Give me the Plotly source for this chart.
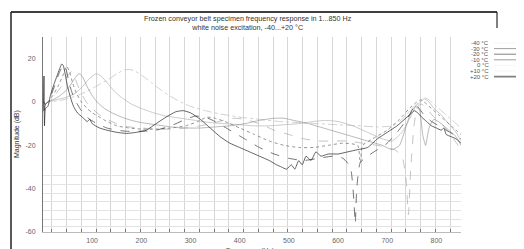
import plotly.graph_objects as go

# ---------------- data ----------------
temps = ["-40 °C", "-30 °C", "-20 °C", "-10 °C", "0 °C", "+10 °C", "+20 °C"]

f_m40 = [1, 5, 10, 30, 50, 70, 90, 110, 130, 150, 165, 175, 185, 200, 220, 240, 260, 280, 300, 330, 360, 400,
         440, 480, 520, 560, 600, 640, 680, 710, 730, 750, 765, 775, 785, 800, 815, 830, 840, 850]
m_m40 = [0, -1, 0, 0.5, 1.5, 3, 5, 7.5, 10, 13, 14.8, 15, 14.5, 12.5, 9, 5.5, 2.5, 0, -2, -4, -5.5, -7,
         -8, -9, -9.5, -10, -10.5, -11, -11.5, -11, -8, -3, 0, 2, 1, -2, -5, -8, -10, -12]

f_m30 = [1, 5, 10, 25, 45, 65, 80, 95, 108, 118, 130, 145, 160, 180, 200, 225, 250, 280, 310, 340, 370, 400,
         430, 460, 490, 520, 550, 575, 600, 630, 660, 690, 710, 730, 745, 758, 768, 775, 785, 795, 810, 825, 840, 850]
m_m30 = [0, -1, 0, 1, 2, 4, 7, 11, 13, 12, 9, 5, 2, -1, -3, -5, -6.5, -7.5, -8.5, -9.5, -10, -10.5,
         -11, -11, -10.5, -10, -9, -8.5, -9, -11, -14, -17, -18, -14, -8, -2, 0, 1.5, 0, -3, -6, -10, -14, -18]

f_m20 = [1, 5, 10, 20, 35, 50, 62, 70, 75, 82, 90, 100, 110, 125, 140, 160, 180, 200, 230, 260, 290, 320,
         350, 380, 410, 440, 470, 490, 510, 540, 570, 600, 630, 660, 690, 710, 725, 740, 750, 758, 766, 772,
         778, 785, 795, 810, 825, 840, 850]
m_m20 = [0, -1, 0, 1, 3, 6, 10, 12.5, 13, 11, 7, 3, 0, -3, -5, -7, -8.5, -9.5, -10.5, -11.5, -12, -12,
         -11.5, -11, -10, -8.5, -7.5, -7.5, -8.5, -10, -12, -14, -16, -18, -20, -22, -20, -10, -4, -2, -4, -15,
         -20, -12, -8, -10, -13, -16, -20]

f_m10 = [1, 5, 10, 20, 30, 40, 50, 58, 64, 70, 78, 88, 100, 115, 130, 150, 175, 200, 230, 260, 290, 320,
         350, 375, 390, 410, 440, 470, 500, 530, 560, 590, 620, 650, 680, 700, 715, 730, 738, 743, 748, 755,
         762, 770, 780, 795, 810, 825, 838, 850]
m_m10 = [0, -1, 0, 2, 5, 8, 12, 14, 12, 8, 4, 0, -3, -6, -8, -10, -11.5, -12, -12.5, -12.5, -12, -11,
         -9.5, -8, -7.5, -8, -10, -13, -15, -17, -18, -18, -18, -19, -20, -21, -22, -25, -35, -52, -30, -10,
         -2, -1, -3, -7, -10, -14, -18, -22]

f_0 = [1, 5, 10, 20, 30, 40, 48, 54, 60, 68, 78, 90, 100, 115, 130, 150, 175, 200, 230, 260, 290, 315,
       333, 350, 370, 400, 430, 460, 490, 520, 550, 580, 610, 640, 645, 650, 670, 700, 725, 745, 760, 768,
       775, 790, 805, 820, 835, 850]
m_0 = [0, -1, 0, 3, 7, 12, 16.5, 14, 9, 4, 0, -3, -5, -7, -9, -11, -12, -12.5, -12.5, -12, -11, -9,
       -7, -7.5, -9, -12, -15, -18, -20, -21, -21, -20, -19, -20, -28, -20, -17, -13, -8, -3, 0, 1,
       0, -3, -6, -9, -12, -15]

f_p10 = [1, 2, 5, 10, 18, 26, 34, 42, 47, 52, 58, 65, 75, 85, 95, 110, 130, 150, 170, 200, 230, 260, 290,
         310, 330, 350, 380, 410, 440, 470, 500, 530, 560, 590, 610, 625, 632, 635, 638, 645, 660, 680, 700,
         720, 740, 752, 758, 765, 775, 790, 805, 820, 835, 850]
m_p10 = [0, -6, -1, 0, 4, 9, 14, 17, 15, 10, 5, 1, -3, -6, -8, -10, -12, -13, -13.5, -13.5, -13, -11, -8,
         -6.5, -7, -9, -13, -17, -21, -24, -26, -27, -26, -25, -26, -30, -45, -56, -40, -28, -25, -22, -19,
         -14, -8, -3, -1, -3, -6, -9, -11, -13, -15, -17]

f_p20 = [1, 2, 3, 5, 10, 15, 22, 30, 35, 38, 41, 45, 50, 56, 62, 70, 80, 90, 95, 100, 115, 130, 150, 170,
         190, 210, 230, 250, 270, 285, 300, 320, 340, 360, 380, 400, 420, 440, 460, 475, 485, 495, 505, 512,
         520, 527, 535, 545, 555, 565, 580, 600, 620, 640, 660, 680, 700, 720, 740, 750, 755, 762, 770, 780,
         790, 800, 810, 815, 820, 830, 840, 850]
m_p20 = [0, 12, -11, -3, -2, 3, 8, 13, 16, 17.5, 17, 13, 7, 2, -2, -5, -7, -9, -8, -10, -12, -13, -14, -14.5,
         -14, -13, -10, -7, -4.5, -4, -5, -8, -12, -16, -19, -21, -23, -25, -27, -29, -30, -31, -29, -31,
         -27, -29, -25, -27, -23, -25, -24, -24, -23, -22, -21, -17, -14, -11, -7, -5, -4, -5, -7, -9,
         -11, -12, -13, -12, -15, -16, -17, -19]

x_ticks = [100, 200, 300, 400, 500, 600, 700, 800]
y_ticks = [20, 0, -20, -40, -60]
y_minor_grid = [-34, -38, -42, -46, -50, -54, -57.5]

# ---------------- styling ----------------
series = [
    (f_m40, m_m40, "#bdbdbd", "dashdot", 0.7),
    (f_m30, m_m30, "#a8a8a8", "solid", 0.6),
    (f_m20, m_m20, "#8a8a8a", "solid", 0.6),
    (f_m10, m_m10, "#9c9c9c", "dash", 0.6),
    (f_0, m_0, "#7a7a7a", "dot", 0.8),
    (f_p10, m_p10, "#3a3a3a", "dash", 0.7),
    (f_p20, m_p20, "#222222", "solid", 0.7),
]
legend_sample_color = ["#eeeeee", "#a0a0a0", "#808080", "#a0a0a0", "#eeeeee", "#eeeeee", "#808080"]
legend_sample_width = [0.6, 1, 1, 1, 0.6, 0.6, 1.6]

W, H = 524, 249
OFF = 8                      # page offset of the plot div in the browser
PL, PT, PR, PB = 43, 37, 461, 232   # plot area as seen in the picture
L = PL - OFF
T = PT - OFF
pw, ph = PR - PL, PB - PT
R = W - L - pw
B = H - T - ph


def px2paper(x, y):
    return (x - PL) / pw, (PB - y) / ph


fig = go.Figure()
for (f, m, c, d, w), name in zip(series, temps):
    fig.add_trace(go.Scatter(x=f, y=m, mode="lines", name=name,
                             line=dict(color=c, dash=d, width=w, shape="spline", smoothing=0.5),
                             showlegend=False))

font = "Arial, Liberation Sans, sans-serif"
shapes = []
annotations = []

# figure frame (left and top border)
x0, y0 = px2paper(11, 12)
x1, y1 = px2paper(497, 262)
shapes.append(dict(type="line", xref="paper", yref="paper", x0=x0, y0=y0, x1=x0, y1=y1,
                   line=dict(color="black", width=1.3)))
shapes.append(dict(type="line", xref="paper", yref="paper", x0=x0, y0=y0, x1=x1, y1=y0,
                   line=dict(color="black", width=1.3)))
_, yr = px2paper(0, 28)
shapes.append(dict(type="line", xref="paper", yref="paper", x0=x1, y0=y0, x1=x1, y1=yr,
                   line=dict(color="black", width=1.0)))

# custom legend (text then line sample, at the right)
for i, (name, (f, m, c, d, w)) in enumerate(zip(temps, series)):
    ypx = 43 + i * 5.6
    tx, ty = px2paper(491, ypx)
    annotations.append(dict(text=name, xref="paper", yref="paper", x=tx, y=ty, xanchor="right",
                            yanchor="middle", showarrow=False, font=dict(size=6, color="#555", family=font)))
    lx0, ly = px2paper(494, ypx)
    lx1, _ = px2paper(530, ypx)
    shapes.append(dict(type="line", xref="paper", yref="paper", x0=lx0, y0=ly, x1=lx1, y1=ly,
                       line=dict(color=legend_sample_color[i], width=legend_sample_width[i])))

# title
ttx, tty = px2paper(248, 23)
annotations.append(dict(text="Frozen conveyor belt specimen frequency response in 1...850 Hz<br>"
                             "white noise excitation, -40...+20 °C",
                        xref="paper", yref="paper", x=ttx, y=tty, showarrow=False, align="center",
                        xanchor="center", yanchor="middle",
                        font=dict(size=7.2, color="#333", family=font)))
# axis titles
xtx, xty = px2paper(250, 251)
annotations.append(dict(text="Frequency (Hz)", xref="paper", yref="paper", x=xtx, y=xty, showarrow=False,
                        xanchor="center", yanchor="middle", font=dict(size=7, color="#444", family=font)))
ytx, yty = px2paper(17, 134)
annotations.append(dict(text="Magnitude (dB)", xref="paper", yref="paper", x=ytx, y=yty, showarrow=False,
                        textangle=-90, xanchor="center", yanchor="middle",
                        font=dict(size=7, color="#333", family=font)))

fig.update_layout(
    width=W, height=H,
    margin=dict(l=L, r=R, t=T, b=B, pad=0),
    paper_bgcolor="white", plot_bgcolor="white",
    shapes=shapes, annotations=annotations,
    showlegend=False,
    xaxis=dict(range=[0, 850], tickmode="array", tickvals=x_ticks, ticktext=[str(v) for v in x_ticks],
               showgrid=False, zeroline=False, showline=True, linecolor="#bbbbbb", linewidth=1,
               ticks="", ticklabelstandoff=2, tickfont=dict(size=7, color="#666", family=font),
               automargin=False,
               minor=dict(tick0=18, dtick=30, showgrid=True, gridcolor="#d6d6d6", gridwidth=1,
                          ticks="inside", ticklen=3, tickcolor="#777")),
    yaxis=dict(range=[-60, 30], tickmode="array", tickvals=y_ticks, ticktext=[str(v) for v in y_ticks],
               showgrid=False, zeroline=False, showline=True, linecolor="#777777", linewidth=1,
               ticks="", ticklabelstandoff=5, tickfont=dict(size=7, color="#666", family=font),
               automargin=False,
               minor=dict(tickmode="array", tickvals=y_minor_grid, showgrid=True, gridcolor="#e3e3e3",
                          gridwidth=1)),
)

fig.write_html("out.html")
